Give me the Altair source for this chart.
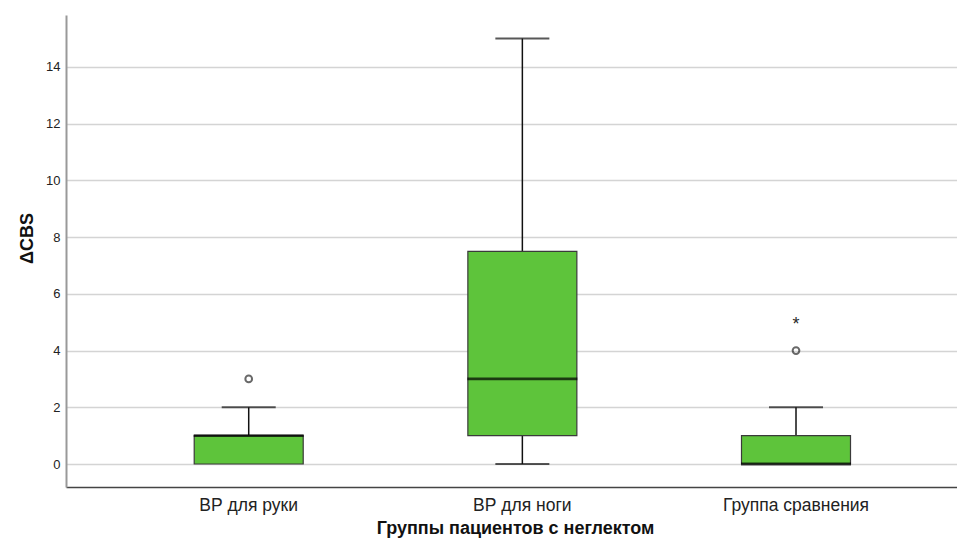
import altair as alt
import pandas as pd

groups = ["ВР для руки", "ВР для ноги", "Группа сравнения"]
whisker_low = [0, 0, 0]
q1 = [0, 1, 0]
median = [1, 3, 0]
q3 = [1, 7.5, 1]
whisker_high = [2, 15, 2]

outlier_group = ["ВР для руки", "Группа сравнения", "Группа сравнения"]
outlier_value = [3, 4, 5]
outlier_kind = ["o", "o", "*"]

box = pd.DataFrame({"group": groups, "lo": whisker_low, "q1": q1, "med": median,
                    "q3": q3, "hi": whisker_high})
out = pd.DataFrame({"group": outlier_group, "value": outlier_value, "kind": outlier_kind})

FONT = "Liberation Sans"
GREEN = "#5ec43b"

x_enc = alt.X("group:N", sort=groups,
              scale=alt.Scale(paddingInner=0, paddingOuter=0.128, align=0.655),
              axis=alt.Axis(title="Группы пациентов с неглектом", labelAngle=0,
                            ticks=False, domain=True, domainColor="#444444", domainWidth=1.3,
                            labelFontSize=17.5, labelColor="#222222", labelPadding=9,
                            labelFont=FONT, titleFont=FONT, titleFontSize=18,
                            titleFontWeight="bold", titleColor="#111111", titlePadding=6,
                            titleX=449, grid=False))

y_scale = alt.Scale(domain=[-0.81, 15.83], nice=False, zero=False)
y_axis = alt.Axis(title="ΔCBS", values=[0, 2, 4, 6, 8, 10, 12, 14], ticks=False,
                  domain=True, domainColor="#999999", domainWidth=2,
                  grid=True, gridColor="#d4d4d4", gridWidth=1.5,
                  labelFontSize=13, labelColor="#222222", labelPadding=6, labelFont=FONT,
                  titleFont=FONT, titleFontSize=18, titleFontWeight="bold",
                  titleColor="#111111", titlePadding=9, titleY=223)

base = alt.Chart(box).encode(x=x_enc)

whisk_up = base.mark_rule(color="#111111", strokeWidth=1.5).encode(
    y=alt.Y("q3:Q", scale=y_scale, axis=y_axis), y2="hi:Q")
whisk_dn = base.mark_rule(color="#111111", strokeWidth=1.5).encode(
    y=alt.Y("lo:Q", scale=y_scale), y2="q1:Q")
boxes = base.mark_bar(size=109, color=GREEN, stroke="#3a3a3a", strokeWidth=1.2).encode(
    y=alt.Y("q1:Q", scale=y_scale), y2="q3:Q")
med = base.mark_tick(size=110, thickness=2.8, color="#000000").encode(
    y=alt.Y("med:Q", scale=y_scale))
cap_hi = base.mark_tick(size=54, thickness=2, color="#111111").encode(
    y=alt.Y("hi:Q", scale=y_scale))
cap_lo = base.transform_filter("datum.lo < datum.q1").mark_tick(
    size=54, thickness=2, color="#111111").encode(y=alt.Y("lo:Q", scale=y_scale))

circles = alt.Chart(out).transform_filter("datum.kind == 'o'").mark_point(
    shape="circle", filled=False, size=45, strokeWidth=2, color="#2a2a2a").encode(
    x=alt.X("group:N", sort=groups), y=alt.Y("value:Q", scale=y_scale))
stars = alt.Chart(out).transform_filter("datum.kind == '*'").mark_text(
    text="*", fontSize=18, font=FONT, color="#2a2a2a", baseline="middle", dy=3).encode(
    x=alt.X("group:N", sort=groups), y=alt.Y("value:Q", scale=y_scale))

chart = alt.layer(whisk_up, whisk_dn, boxes, med, cap_hi, cap_lo, circles, stars).properties(
    width=891, height=472,
    background="white",
    autosize=alt.AutoSizeParams(type="none"),
    padding={"left": 58, "top": 7, "right": 0, "bottom": 53},
).configure_view(stroke=None)

chart.save("out.html", embed_options={"renderer": "svg", "actions": False})
